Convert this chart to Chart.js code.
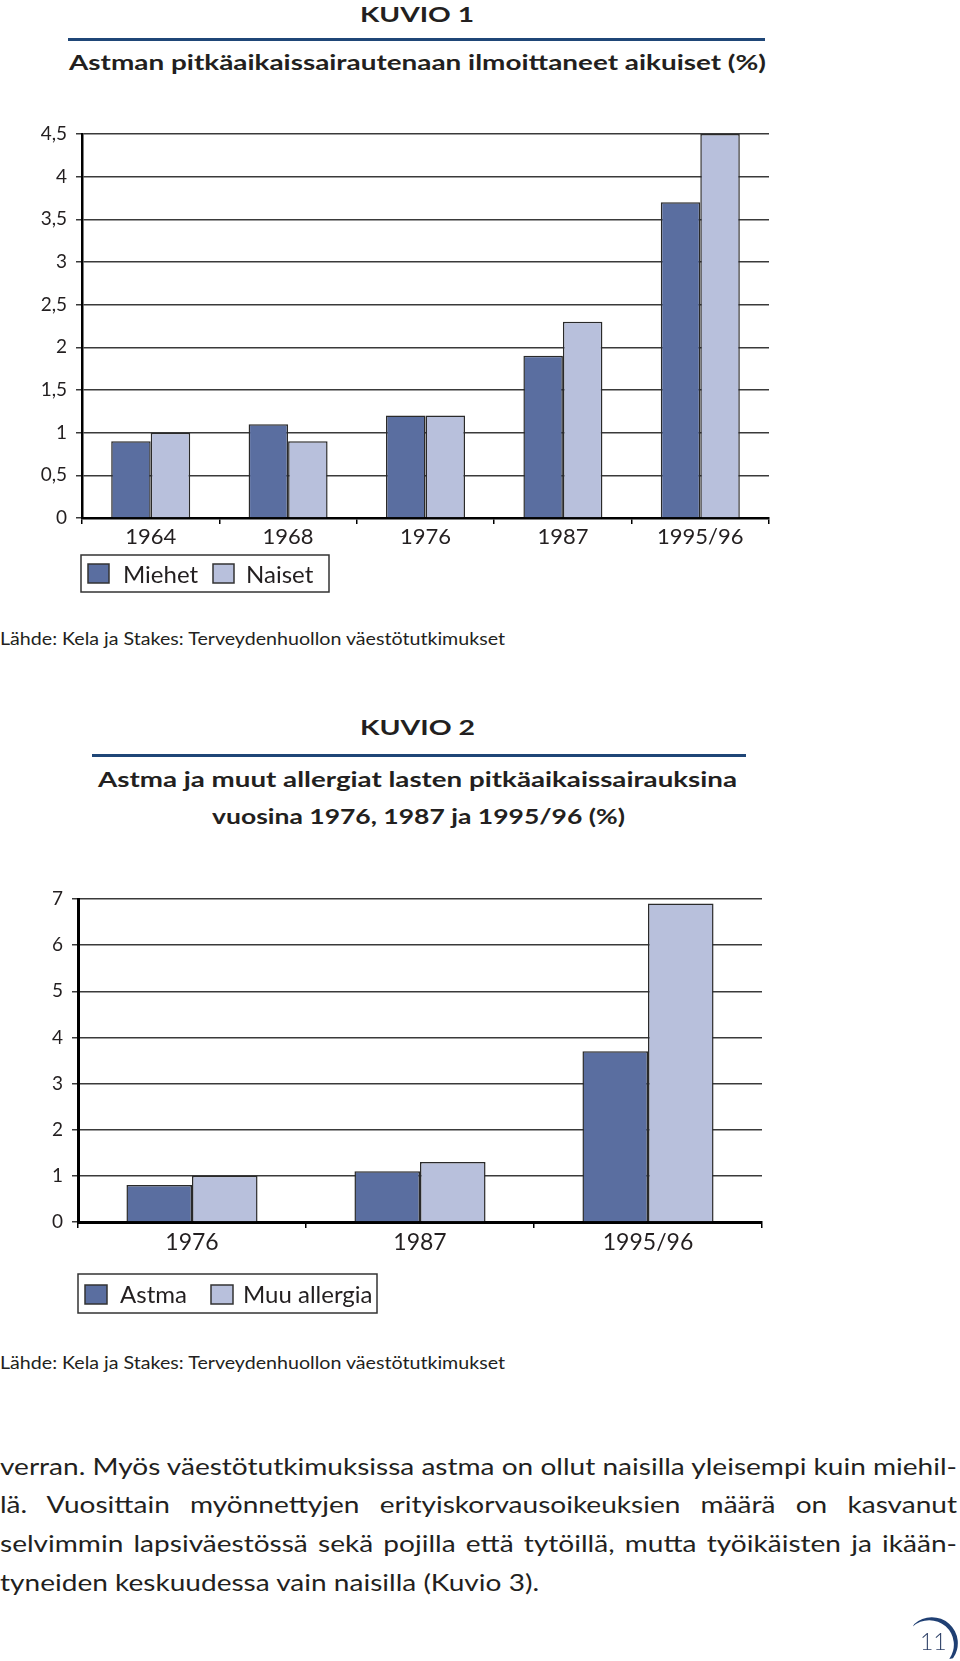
<!DOCTYPE html>
<html lang="fi">
<head>
<meta charset="utf-8">
<script src="https://cdn.jsdelivr.net/npm/chart.js@4.4.1/dist/chart.umd.min.js"></script>
<style>
  html, body { margin:0; padding:0; background:#fff; }
  #page { position:relative; width:960px; height:1661px; overflow:hidden; background:#fff; font-family:Lato, "Open Sans", sans-serif; color:#231f20; }
  .t { position:absolute; white-space:nowrap; line-height:1; display:inline-block; transform-origin:left top; }
  .b { font-weight:700; }
  .rule { position:absolute; height:2.5px; background:#1f4677; }
  canvas { position:absolute; left:0; }
</style>
</head>
<body>
<div id="page">
  <div class="t b" id="k1" style="font-size:21px; left:360px; top:3.4px;" data-w="114">KUVIO 1</div>
  <div class="rule" style="left:68px; top:38px; width:697px;"></div>
  <div class="t b" id="t1" style="font-size:20.5px; left:69px; top:51.8px;" data-w="697">Astman pitkäaikaissairautenaan ilmoittaneet aikuiset (%)</div>

  <canvas id="c1" width="780" height="490" style="top:110px;"></canvas>

  <div class="t" style="font-size:17.3px; left:0px; top:630.4px;" data-w="505">Lähde: Kela ja Stakes: Terveydenhuollon väestötutkimukset</div>

  <div class="t b" style="font-size:21px; left:360px; top:716.4px;" data-w="115">KUVIO 2</div>
  <div class="rule" style="left:92px; top:754px; width:654px;"></div>
  <div class="t b" style="font-size:21px; left:98px; top:768.4px;" data-w="639">Astma ja muut allergiat lasten pitkäaikaissairauksina</div>
  <div class="t b" style="font-size:20px; left:212px; top:806.3px;" data-w="413">vuosina 1976, 1987 ja 1995/96 (%)</div>

  <canvas id="c2" width="780" height="460" style="top:860px;"></canvas>

  <div class="t" style="font-size:17.3px; left:0px; top:1354px;" data-w="505">Lähde: Kela ja Stakes: Terveydenhuollon väestötutkimukset</div>

  <div class="t body" data-mode="fit" style="font-size:22.5px; left:0px; top:1455.5px;">verran. Myös väestötutkimuksissa astma on ollut naisilla yleisempi kuin miehil-</div>
  <div class="t body" data-mode="just" style="font-size:22.5px; left:0px; top:1494.3px;">lä. Vuosittain myönnettyjen erityiskorvausoikeuksien määrä on kasvanut</div>
  <div class="t body" data-mode="just" style="font-size:22.5px; left:0px; top:1533.1px;">selvimmin lapsiväestössä sekä pojilla että tytöillä, mutta työikäisten ja ikään-</div>
  <div class="t body" data-mode="left" style="font-size:22.5px; left:0px; top:1571.9px;">tyneiden keskuudessa vain naisilla (Kuvio 3).</div>

  <svg style="position:absolute; left:0; top:0;" width="960" height="1661">
    <path d="M 914.3 1624 A 26 26 0 0 1 953 1658.3 L 949.3 1658.9 A 24.5 24.5 0 0 0 912.8 1626.6 Z" fill="#1f3f73"/>
  </svg>
  <div class="t" style="font-size:23px; left:920px; top:1630px; color:#2c3f66; font-weight:300; letter-spacing:0px;">11</div>
</div>

<script>
// ---------- DATA ----------
const categories1 = ['1964', '1968', '1976', '1987', '1995/96'];
const seriesNames1 = ['Miehet', 'Naiset'];
const miehet = [0.9, 1.1, 1.2, 1.9, 3.7];
const naiset = [1.0, 0.9, 1.2, 2.3, 4.5];
const yTicks1 = [0, 0.5, 1, 1.5, 2, 2.5, 3, 3.5, 4, 4.5];
const yTickLabels1 = ['0', '0,5', '1', '1,5', '2', '2,5', '3', '3,5', '4', '4,5'];

const categories2 = ['1976', '1987', '1995/96'];
const seriesNames2 = ['Astma', 'Muu allergia'];
const astma = [0.8, 1.1, 3.7];
const muuAllergia = [1.0, 1.3, 6.9];
const yTicks2 = [0, 1, 2, 3, 4, 5, 6, 7];
const yTickLabels2 = ['0', '1', '2', '3', '4', '5', '6', '7'];

// ---------- STYLE ----------
const DARK = '#5a6ea0';
const LIGHT = '#b8c0dc';
const FONT = 'Lato';
const TEXT = '#231f20';

function makeLegendPlugin(cfg) {
  return {
    id: 'boxLegend',
    afterDraw(chart) {
      const ctx = chart.ctx;
      ctx.save();
      ctx.lineWidth = 1.5;
      ctx.strokeStyle = '#333';
      ctx.strokeRect(cfg.x, cfg.y, cfg.w, cfg.h);
      ctx.font = cfg.size + 'px ' + FONT;
      ctx.textBaseline = 'alphabetic';
      chart.data.datasets.forEach((ds, i) => {
        const it = cfg.items[i];
        ctx.fillStyle = ds.backgroundColor;
        ctx.fillRect(it.sx, cfg.sy, cfg.sw, cfg.sh);
        ctx.strokeStyle = '#333';
        ctx.strokeRect(it.sx, cfg.sy, cfg.sw, cfg.sh);
        ctx.fillStyle = TEXT;
        ctx.fillText(ds.label, it.tx, cfg.base);
      });
      ctx.restore();
    }
  };
}

function makeChart(canvasId, cats, names, s1, s2, yTicks, yLabels, yMax, geom, legendCfg) {
  return new Chart(document.getElementById(canvasId), {
    type: 'bar',
    data: {
      labels: cats,
      datasets: [
        { label: names[0], data: s1, backgroundColor: DARK, borderColor: '#2a2a2a', borderWidth: 1.5 },
        { label: names[1], data: s2, backgroundColor: LIGHT, borderColor: '#2a2a2a', borderWidth: 1.5 }
      ]
    },
    options: {
      responsive: false,
      animation: false,
      devicePixelRatio: 1,
      layout: { padding: geom.padding },
      datasets: { bar: { categoryPercentage: 0.575, barPercentage: 1.0 } },
      plugins: { legend: { display: false }, tooltip: { enabled: false } },
      scales: {
        x: {
          afterFit: s => { s.height = 40; },
          ticks: { font: { family: FONT, size: geom.xFont }, color: TEXT, padding: geom.xPad },
          grid: { display: true, drawOnChartArea: false, drawTicks: true, tickLength: 6, color: '#000', lineWidth: 1.5, offset: true },
          border: { display: true, color: '#000', width: geom.axisW }
        },
        y: {
          min: 0, max: yMax,
          afterFit: s => { s.width = geom.yWidth; },
          afterBuildTicks: s => { s.ticks = yTicks.map(v => ({ value: v })); },
          ticks: { callback: (v, i) => yLabels[i], font: { family: FONT, size: 19 }, color: TEXT, padding: 9 },
          grid: { color: '#3a3a3a', lineWidth: 1.5, tickLength: 6, drawTicks: true },
          border: { display: true, color: '#000', width: geom.axisW }
        }
      }
    },
    plugins: [makeLegendPlugin(legendCfg)]
  });
}

makeChart('c1', categories1, seriesNames1, miehet, naiset, yTicks1, yTickLabels1, 4.5,
  { padding: { top: 24, right: 11, bottom: 42, left: 0 }, yWidth: 82, xFont: 22, xPad: 0, axisW: 2.5 },
  { x: 81, y: 445, w: 248, h: 37, sy: 454, sw: 21, sh: 19, size: 24, base: 473,
    items: [{ sx: 88, tx: 123 }, { sx: 213, tx: 246 }] });

makeChart('c2', categories2, seriesNames2, astma, muuAllergia, yTicks2, yTickLabels2, 7,
  { padding: { top: 39, right: 18, bottom: 58, left: 0 }, yWidth: 78, xFont: 23, xPad: 1, axisW: 3 },
  { x: 78, y: 414, w: 299, h: 39, sy: 425, sw: 22, sh: 19, size: 24, base: 443,
    items: [{ sx: 85, tx: 120 }, { sx: 211, tx: 243 }] });

// ---------- text fitting ----------
function fitTexts() {
  document.querySelectorAll('.t[data-w]').forEach(el => {
    el.style.transform = 'none';
    const w = el.getBoundingClientRect().width;
    const target = parseFloat(el.dataset.w);
    el.style.transform = 'scaleX(' + (target / w) + ')';
  });
  const lines = Array.from(document.querySelectorAll('.body'));
  const FULL = 957;
  lines.forEach(el => { el.style.transform = 'none'; el.style.wordSpacing = '0px'; });
  const w1 = lines[0].getBoundingClientRect().width;
  const f = FULL / w1;
  lines.forEach(el => {
    const mode = el.dataset.mode;
    if (mode === 'just') {
      const nat = el.getBoundingClientRect().width;
      const spaces = (el.textContent.match(/ /g) || []).length;
      const ws = (FULL / f - nat) / spaces;
      el.style.wordSpacing = ws + 'px';
    }
    el.style.transform = 'scaleX(' + f + ')';
  });
}
if (document.fonts && document.fonts.ready) { document.fonts.ready.then(fitTexts); }
fitTexts();
</script>
</body>
</html>
